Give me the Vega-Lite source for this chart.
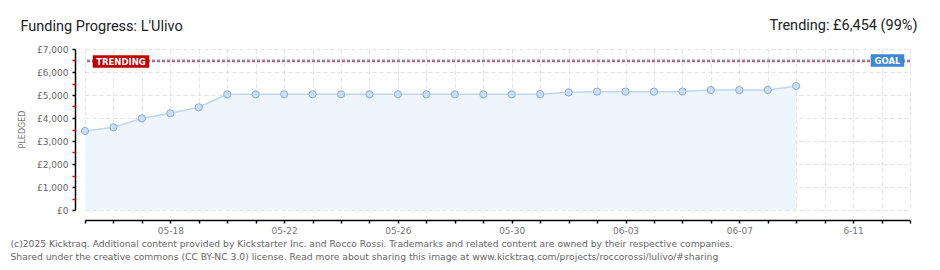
{
  "$schema": "https://vega.github.io/schema/vega-lite/v6.json",
  "autosize": "none",
  "width": 825,
  "height": 161,
  "padding": {"left": 85, "top": 49, "right": 30, "bottom": 60},
  "background": "white",
  "datasets": {
    "progress": [
      {"date": "2025-05-15", "pledged": 3435},
      {"date": "2025-05-16", "pledged": 3595},
      {"date": "2025-05-17", "pledged": 3985},
      {"date": "2025-05-18", "pledged": 4205},
      {"date": "2025-05-19", "pledged": 4465},
      {"date": "2025-05-20", "pledged": 5030},
      {"date": "2025-05-21", "pledged": 5030},
      {"date": "2025-05-22", "pledged": 5030},
      {"date": "2025-05-23", "pledged": 5030},
      {"date": "2025-05-24", "pledged": 5030},
      {"date": "2025-05-25", "pledged": 5030},
      {"date": "2025-05-26", "pledged": 5030},
      {"date": "2025-05-27", "pledged": 5030},
      {"date": "2025-05-28", "pledged": 5030},
      {"date": "2025-05-29", "pledged": 5030},
      {"date": "2025-05-30", "pledged": 5030},
      {"date": "2025-05-31", "pledged": 5035},
      {"date": "2025-06-01", "pledged": 5115},
      {"date": "2025-06-02", "pledged": 5145},
      {"date": "2025-06-03", "pledged": 5145},
      {"date": "2025-06-04", "pledged": 5145},
      {"date": "2025-06-05", "pledged": 5150},
      {"date": "2025-06-06", "pledged": 5215},
      {"date": "2025-06-07", "pledged": 5215},
      {"date": "2025-06-08", "pledged": 5220},
      {"date": "2025-06-09", "pledged": 5390}
    ],
    "targets": [
      {"series": "Trending", "amount": 6454, "label": "TRENDING"},
      {"series": "Goal", "amount": 6500, "label": "GOAL"}
    ]
  },
  "resolve": {"axis": {"y": "independent"}},
  "layer": [
    {
      "data": {"name": "progress"},
      "mark": {"type": "area", "color": "#eef5fd", "opacity": 1, "interpolate": "linear"},
      "encoding": {
        "x": {
          "field": "date",
          "type": "temporal",
          "scale": {
            "type": "utc",
            "domain": [
              {"year": 2025, "month": 5, "date": 15, "utc": true},
              {"year": 2025, "month": 6, "date": 13, "utc": true}
            ]
          },
          "axis": {
            "tickCount": {"interval": "day", "step": 1},
            "labelExpr": "(round((+datum.value - utc(2025,4,15))/86400000) % 4 == 3) ? (round((+datum.value - utc(2025,4,15))/86400000) == 27 ? '6-11' : utcFormat(datum.value, '%m-%d')) : ''",
            "labelOverlap": false,
            "offset": 10,
            "domainColor": "#000000",
            "domainWidth": 1.5,
            "tickColor": "#000000",
            "tickSize": 3,
            "tickWidth": 1.5,
            "labelFont": "DejaVu Sans",
            "labelFontSize": 9,
            "labelColor": "#777777",
            "labelPadding": 3,
            "grid": true,
            "gridColor": "#e3e3e3",
            "gridDash": [4, 3],
            "gridWidth": 1,
            "title": [
              "(c)2025 Kicktraq. Additional content provided by Kickstarter Inc. and Rocco Rossi. Trademarks and related content are owned by their respective companies.",
              "Shared under the creative commons (CC BY-NC 3.0) license. Read more about sharing this image at www.kicktraq.com/projects/roccorossi/lulivo/#sharing"
            ],
            "titleX": -75,
            "titleY": 26,
            "titleAlign": "left",
            "titleBaseline": "alphabetic",
            "titleFont": "DejaVu Sans",
            "titleFontSize": 9.2,
            "titleFontWeight": "normal",
            "titleColor": "#666666",
            "titleLineHeight": 13
          }
        },
        "y": {
          "field": "pledged",
          "type": "quantitative",
          "scale": {"domain": [0, 7000], "nice": false, "zero": true},
          "axis": {
            "orient": "left",
            "values": [0, 1000, 2000, 3000, 4000, 5000, 6000, 7000],
            "labelExpr": "'£' + format(datum.value, ',')",
            "offset": 10,
            "domainColor": "#000000",
            "domainWidth": 1.5,
            "tickColor": "#000000",
            "tickSize": 3,
            "tickWidth": 1.5,
            "labelFont": "DejaVu Sans",
            "labelFontSize": 9,
            "labelColor": "#666666",
            "labelPadding": 4,
            "grid": true,
            "gridColor": "#e3e3e3",
            "gridDash": [4, 3],
            "gridWidth": 1,
            "title": "PLEDGED",
            "titleX": -53,
            "titleY": 80,
            "titleAngle": -90,
            "titleAlign": "center",
            "titleBaseline": "middle",
            "titleFont": "DejaVu Sans",
            "titleFontSize": 8,
            "titleFontWeight": "normal",
            "titleColor": "#777777"
          }
        }
      }
    },
    {
      "data": {"name": "progress"},
      "mark": {"type": "line", "color": "#bdd7f3", "strokeWidth": 1.5},
      "encoding": {
        "x": {"field": "date", "type": "temporal"},
        "y": {"field": "pledged", "type": "quantitative", "axis": null}
      }
    },
    {
      "data": {"name": "progress"},
      "mark": {"type": "point", "filled": true, "size": 52, "fill": "#c6def8", "stroke": "#95abc6", "strokeWidth": 1, "opacity": 1},
      "encoding": {
        "x": {"field": "date", "type": "temporal"},
        "y": {"field": "pledged", "type": "quantitative", "axis": null}
      }
    },
    {
      "data": {"name": "targets"},
      "transform": [{"filter": "datum.series == 'Goal'"}],
      "mark": {"type": "rule", "color": "#7f96cf", "strokeWidth": 2, "strokeDash": [3, 2]},
      "encoding": {
        "y": {"field": "amount", "type": "quantitative", "axis": null}
      }
    },
    {
      "data": {"name": "targets"},
      "transform": [{"filter": "datum.series == 'Trending'"}],
      "mark": {"type": "rule", "color": "#c85a6c", "strokeWidth": 1.5, "strokeDash": [3, 2]},
      "encoding": {
        "y": {
          "field": "amount",
          "type": "quantitative",
          "axis": {
            "orient": "left",
            "values": [500, 1500, 2500, 3500, 4500, 5500, 6500],
            "offset": 10,
            "domain": false,
            "labels": false,
            "grid": false,
            "tickColor": "#ee0000",
            "tickSize": 3,
            "tickWidth": 1.5,
            "title": "Funding Progress: L'Ulivo",
            "titleAngle": 0,
            "titleX": -55,
            "titleY": -19,
            "titleAlign": "left",
            "titleBaseline": "alphabetic",
            "titleFont": "Roboto",
            "titleFontSize": 14.5,
            "titleFontWeight": "normal",
            "titleColor": "#222222"
          }
        }
      }
    },
    {
      "data": {"name": "targets"},
      "transform": [{"filter": "datum.series == 'Trending'"}],
      "mark": {"type": "point", "shape": "M-1,-0.214H1V0.214H-1Z", "size": 3136, "filled": true, "fill": "#c00000", "stroke": "#c00000", "strokeWidth": 0.5, "opacity": 1},
      "encoding": {
        "x": {"datum": {"year": 2025, "month": 5, "date": 16, "hours": 6, "minutes": 20, "utc": true}, "type": "temporal"},
        "y": {"field": "amount", "type": "quantitative", "axis": null}
      }
    },
    {
      "data": {"name": "targets"},
      "transform": [{"filter": "datum.series == 'Goal'"}],
      "mark": {"type": "point", "shape": "M-1,-0.364H1V0.364H-1Z", "size": 1089, "filled": true, "fill": "#3d86d8", "stroke": "#3d86d8", "strokeWidth": 0.5, "opacity": 1},
      "encoding": {
        "x": {"datum": {"year": 2025, "month": 6, "date": 12, "hours": 5, "utc": true}, "type": "temporal"},
        "y": {
          "field": "amount",
          "type": "quantitative",
          "axis": {
            "orient": "right",
            "domain": false,
            "labels": false,
            "ticks": false,
            "grid": false,
            "title": "Trending:  £6,454 (99%)",
            "titleAngle": 0,
            "titleX": 7,
            "titleY": -20,
            "titleAlign": "right",
            "titleBaseline": "alphabetic",
            "titleFont": "Roboto",
            "titleFontSize": 14.5,
            "titleFontWeight": "normal",
            "titleColor": "#222222"
          }
        }
      }
    },
    {
      "data": {"name": "targets"},
      "transform": [{"filter": "datum.series == 'Trending'"}],
      "mark": {"type": "text", "color": "#ffffff", "font": "DejaVu Sans", "fontSize": 8.5, "fontWeight": "bold", "align": "center", "baseline": "middle"},
      "encoding": {
        "x": {"datum": {"year": 2025, "month": 5, "date": 16, "hours": 6, "minutes": 20, "utc": true}, "type": "temporal"},
        "y": {"field": "amount", "type": "quantitative", "axis": null},
        "text": {"field": "label"}
      }
    },
    {
      "data": {"name": "targets"},
      "transform": [{"filter": "datum.series == 'Goal'"}],
      "mark": {"type": "text", "color": "#ffffff", "font": "DejaVu Sans", "fontSize": 8.5, "fontWeight": "bold", "align": "center", "baseline": "middle"},
      "encoding": {
        "x": {"datum": {"year": 2025, "month": 6, "date": 12, "hours": 5, "utc": true}, "type": "temporal"},
        "y": {"field": "amount", "type": "quantitative", "axis": null},
        "text": {"field": "label"}
      }
    }
  ],
  "config": {
    "view": {"stroke": null}
  }
}
